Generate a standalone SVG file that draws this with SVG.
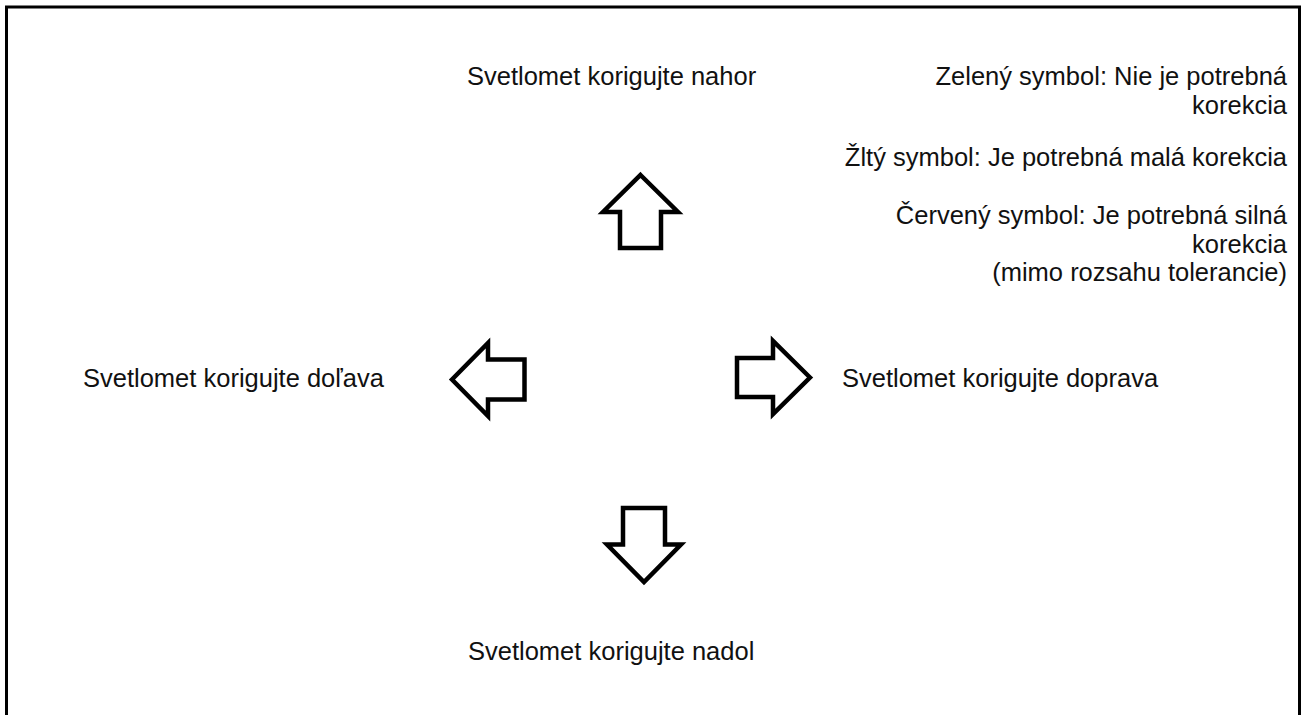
<svg xmlns="http://www.w3.org/2000/svg" width="1301" height="715" viewBox="0 0 1301 715">
<style>
.t{font-family:"Liberation Sans",Arial,sans-serif;font-size:25.5px;fill:#111}
.r{text-anchor:end}
.arrow{fill:#fff;stroke:#000;stroke-width:4.5;stroke-linejoin:miter}
.frame{fill:none;stroke:#000;stroke-width:3}
</style>
<rect x="0" y="0" width="1301" height="715" fill="#fff"/>
<path class="frame" d="M6.5,716 V7 H1299.5 V716"/>
<g id="up">
<polygon class="arrow" points="640.5,175 678,212 661,212 661,248 620,248 620,212 603,212"/>
<text class="t" x="467" y="85">Svetlomet korigujte nahor</text>
</g>
<g id="left">
<polygon class="arrow" points="452,379.5 488,343 488,359.5 524.5,359.5 524.5,399.5 488,399.5 488,416"/>
<text class="t" x="83" y="387">Svetlomet korigujte doľava</text>
</g>
<g id="right">
<polygon class="arrow" points="810,377.5 773,341 773,358 737,358 737,397 773,397 773,414"/>
<text class="t" x="842" y="387">Svetlomet korigujte doprava</text>
</g>
<g id="down">
<polygon class="arrow" points="623,508 665,508 665,544.5 681,544.5 644,582 607,544.5 623,544.5"/>
<text class="t" x="468" y="660">Svetlomet korigujte nadol</text>
</g>
<g id="legend">
<text class="t r" x="1287" y="85">Zelený symbol: Nie je potrebná</text>
<text class="t r" x="1287" y="114">korekcia</text>
<text class="t r" x="1287" y="166">Žltý symbol: Je potrebná malá korekcia</text>
<text class="t r" x="1287" y="224">Červený symbol: Je potrebná silná</text>
<text class="t r" x="1287" y="253">korekcia</text>
<text class="t r" x="1287" y="281">(mimo rozsahu tolerancie)</text>
</g>
<g id="connectors"></g>
</svg>
